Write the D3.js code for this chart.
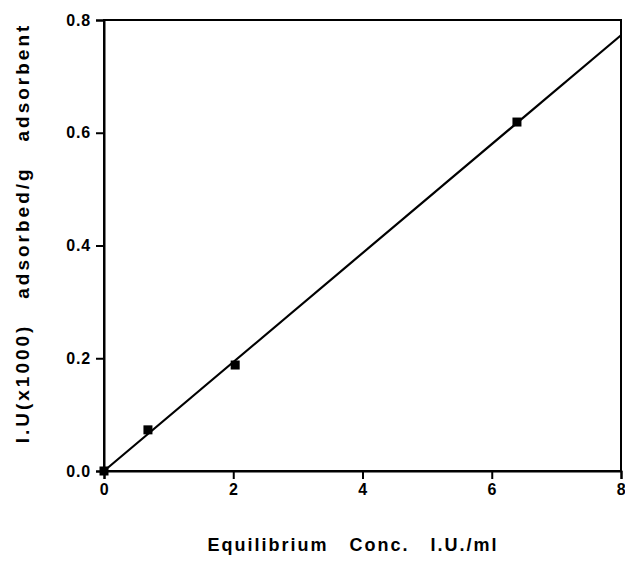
<!DOCTYPE html>
<html>
<head>
<meta charset="utf-8">
<script src="https://cdn.jsdelivr.net/npm/d3@7"></script>
<style>
  html, body { margin: 0; padding: 0; background: #fff; }
  svg text { font-family: "Liberation Sans", Arial, sans-serif; font-weight: bold; fill: #000; }
</style>
</head>
<body>
<svg id="chart" width="625" height="566"></svg>
<script>
// Adsorption isotherm: equilibrium concentration vs. amount adsorbed
const concValues = [0, 0.68, 2.03, 6.39];
const adsorbedValues = [0, 0.073, 0.188, 0.619];
const fitLine = [[0, 0], [8, 0.773]];
const xTicks = [0, 2, 4, 6, 8];
const yTicks = [0.0, 0.2, 0.4, 0.6, 0.8];
const xTitle = "Equilibrium   Conc.   I.U./ml";
const yTitle = "I.U(x1000)   adsorbed/g   adsorbent";

const svg = d3.select("#chart");
const margin = { left: 104, right: 4, top: 20, bottom: 95 };
const W = 625, H = 566;

const x = d3.scaleLinear().domain([0, 8]).range([margin.left, W - margin.right]);
const y = d3.scaleLinear().domain([0, 0.8]).range([H - margin.bottom, margin.top]);

// frame around the plotting area
svg.append("rect")
  .attr("x", x(0)).attr("y", y(0.8))
  .attr("width", x(8) - x(0)).attr("height", y(0) - y(0.8))
  .attr("fill", "none").attr("stroke", "#000").attr("stroke-width", 2);

const xAxis = svg.append("g")
  .attr("transform", `translate(0,${y(0)})`)
  .call(d3.axisBottom(x).tickValues(xTicks).tickFormat(d3.format("d")).tickSize(8).tickPadding(5));
const yAxis = svg.append("g")
  .attr("transform", `translate(${x(0)},0)`)
  .call(d3.axisLeft(y).tickValues(yTicks).tickFormat(d3.format(".1f")).tickSize(8).tickPadding(5));

[xAxis, yAxis].forEach(g => {
  g.attr("font-size", null).attr("font-family", null);
  g.select(".domain").attr("stroke-width", 2);
  g.selectAll(".tick line").attr("stroke-width", 2);
  g.selectAll("text")
    .style("font-size", "16px")
    .style("letter-spacing", "0.8px")
    .style("font-weight", "bold");
});

// fitted straight line
svg.append("path")
  .datum(fitLine)
  .attr("d", d3.line().x(d => x(d[0])).y(d => y(d[1])))
  .attr("fill", "none").attr("stroke", "#000").attr("stroke-width", 2.2);

// measured points
const pts = concValues.map((c, i) => [c, adsorbedValues[i]]);
svg.selectAll("rect.pt")
  .data(pts)
  .enter().append("rect")
  .attr("class", "pt")
  .attr("x", d => x(d[0]) - 4.5).attr("y", d => y(d[1]) - 4.5)
  .attr("width", 9).attr("height", 9)
  .attr("fill", "#000");

// axis titles
svg.append("text")
  .attr("x", 353).attr("y", 551)
  .attr("text-anchor", "middle")
  .style("font-size", "18px").style("letter-spacing", "2px").style("white-space", "pre")
  .text(xTitle);

svg.append("text")
  .attr("transform", `translate(29,233) rotate(-90)`)
  .attr("text-anchor", "middle")
  .style("font-size", "19px").style("letter-spacing", "3px").style("white-space", "pre")
  .text(yTitle);
</script>
</body>
</html>
